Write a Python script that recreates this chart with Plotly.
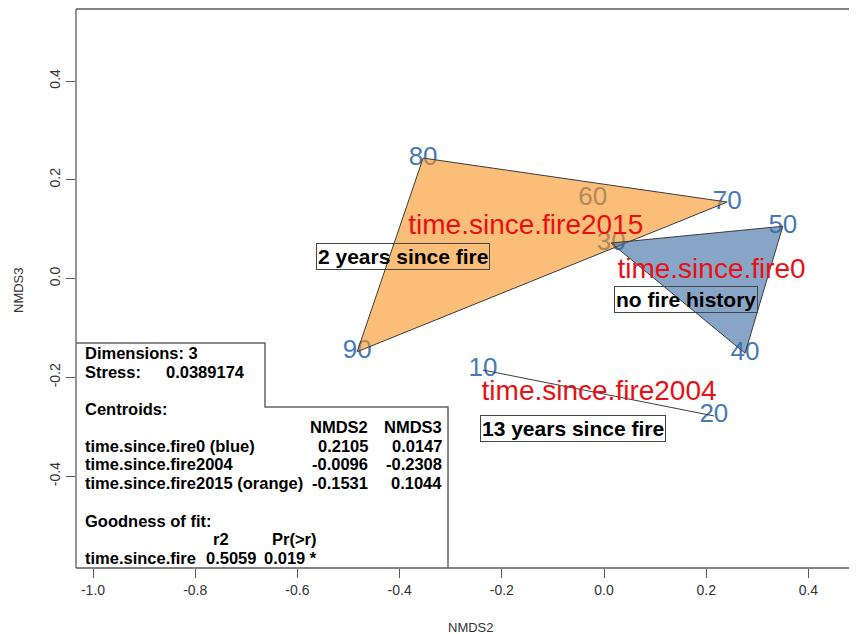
import plotly.graph_objects as go

# ---------------- data ----------------
site_labels = ["10", "20", "30", "40", "50", "60", "70", "80", "90"]
site_nmds2 = [-0.237, 0.215, 0.014, 0.276, 0.350, -0.022, 0.241, -0.354, -0.483]
site_nmds3 = [-0.185, -0.278, 0.072, -0.151, 0.106, 0.163, 0.155, 0.244, -0.148]

hull_fire0 = ["30", "50", "40"]
hull_fire2015 = ["80", "70", "90"]
hull_fire2004 = ["10", "20"]

centroid_names = ["time.since.fire0", "time.since.fire2004", "time.since.fire2015"]
centroid_nmds2 = [0.2105, -0.0096, -0.1531]
centroid_nmds3 = [0.0147, -0.2308, 0.1044]

box_labels = ["no fire history", "13 years since fire", "2 years since fire"]
box_nmds2 = [0.1595, -0.0607, -0.394]
box_nmds3 = [-0.0423, -0.3034, 0.0457]

x_tickvals = [-1.0, -0.8, -0.6, -0.4, -0.2, 0.0, 0.2, 0.4]
x_ticktext = ["-1.0", "-0.8", "-0.6", "-0.4", "-0.2", "0.0", "0.2", "0.4"]
y_tickvals = [-0.4, -0.2, 0.0, 0.2, 0.4]
y_ticktext = ["-0.4", "-0.2", "0.0", "0.2", "0.4"]

stress_value = "0.0389174"
dimensions = 3
centroid_table_names = ["time.since.fire0 (blue)", "time.since.fire2004", "time.since.fire2015 (orange)"]
fit_r2 = "0.5059"
fit_p = "0.019 *"

# ---------------- styling ----------------
FONT = "Liberation Sans, Arial, Helvetica, sans-serif"
OFF = 8                      # default page body margin
SCREEN_W, SCREEN_H = 857, 634
W, H = SCREEN_W - OFF, SCREEN_H - OFF
# plot area in screen pixels
P_LEFT, P_TOP, P_BOTTOM = 76, 9, 568
L, R, T, B = P_LEFT - OFF, 0, P_TOP - OFF, SCREEN_H - P_BOTTOM
X0, SX = 604.0, 511.0   # screen pixel of x=0, pixels per unit
Y0, SY = 278.6, 494.0


def px2x(px):
    return (px - X0) / SX


def px2y(py):
    return (Y0 - py) / SY


x_range = [px2x(P_LEFT), px2x(SCREEN_W)]
y_range = [px2y(P_BOTTOM), px2y(P_TOP)]

pos = {lab: (x, y) for lab, x, y in zip(site_labels, site_nmds2, site_nmds3)}

fig = go.Figure()

# site labels (drawn beneath the hulls)
fig.add_trace(go.Scatter(
    x=site_nmds2, y=site_nmds3, text=site_labels, mode="text",
    textposition="middle center",
    textfont=dict(family=FONT, size=26, color="rgb(70,122,182)"),
    hoverinfo="skip", showlegend=False))


def hull_trace(labels, fill):
    xs = [pos[l][0] for l in labels]
    ys = [pos[l][1] for l in labels]
    if fill is not None:
        xs.append(xs[0]); ys.append(ys[0])
        return go.Scatter(x=xs, y=ys, mode="lines", fill="toself", fillcolor=fill,
                          line=dict(color="rgb(60,60,60)", width=1),
                          hoverinfo="skip", showlegend=False)
    return go.Scatter(x=xs, y=ys, mode="lines",
                      line=dict(color="rgb(60,60,60)", width=1),
                      hoverinfo="skip", showlegend=False)


fig.add_trace(hull_trace(hull_fire2015, "rgba(247,147,30,0.6)"))
fig.add_trace(hull_trace(hull_fire0, "rgba(55,105,160,0.6)"))
fig.add_trace(hull_trace(hull_fire2004, None))

# centroid labels
fig.add_trace(go.Scatter(
    x=centroid_nmds2, y=centroid_nmds3, text=centroid_names, mode="text",
    textposition="middle center",
    textfont=dict(family=FONT, size=28, color="rgb(232,16,20)"),
    hoverinfo="skip", showlegend=False))

annotations = []
for t, x, y in zip(box_labels, box_nmds2, box_nmds3):
    annotations.append(dict(
        x=x, y=y, xref="x", yref="y", text=t, showarrow=False,
        xanchor="center", yanchor="middle",
        font=dict(family=FONT, size=21, color="black", weight="bold"),
        bordercolor="rgb(70,70,70)", borderwidth=1, borderpad=1,
        bgcolor="rgba(0,0,0,0)"))


def leg_text(text, px, py, anchor="left"):
    annotations.append(dict(
        x=px2x(px), y=px2y(py), xref="x", yref="y", text=text, showarrow=False,
        xanchor=anchor, yanchor="middle",
        font=dict(family=FONT, size=16.5, color="black", weight="bold")))


rows_y = [446, 464.3, 483.3]
leg_text(f"Dimensions: {dimensions}", 83, 352.7)
leg_text("Stress:", 83, 371.7)
leg_text(stress_value, 164, 371.7)
leg_text("Centroids:", 83, 409.3)
leg_text("NMDS2", 370, 427.3, "right")
leg_text("NMDS3", 444, 427.3, "right")
for name, c2, c3, ry in zip(centroid_table_names, centroid_nmds2, centroid_nmds3, rows_y):
    leg_text(name, 83, ry)
    leg_text(f"{c2:.4f}", 370, ry, "right")
    leg_text(f"{c3:.4f}", 444, ry, "right")
leg_text("Goodness of fit:", 83, 521)
leg_text("r2", 231, 539.3, "right")
leg_text("Pr(>r)", 318, 539.3, "right")
leg_text("time.since.fire", 83, 557.7)
leg_text(fit_r2, 258, 557.7, "right")
leg_text(fit_p, 319, 557.7, "right")

# axis titles
annotations.append(dict(x=px2x(471), y=0, xref="x", yref="paper", yshift=-59,
                        text="NMDS2", showarrow=False, xanchor="center", yanchor="middle",
                        font=dict(family=FONT, size=13, color="#333")))
annotations.append(dict(x=0, y=px2y(290), xref="paper", yref="y", xshift=-58,
                        text="NMDS3", showarrow=False, textangle=-90,
                        xanchor="center", yanchor="middle",
                        font=dict(family=FONT, size=13, color="#333")))

shapes = [
    # plot frame (top, left, bottom)
    dict(type="line", xref="paper", yref="paper", x0=0, x1=1, y0=1, y1=1,
         line=dict(color="rgb(90,90,90)", width=1.3)),
    dict(type="line", xref="paper", yref="paper", x0=0, x1=0, y0=0, y1=1,
         line=dict(color="rgb(90,90,90)", width=1.3)),
    dict(type="line", xref="paper", yref="paper", x0=0, x1=1, y0=0, y1=0,
         line=dict(color="rgb(90,90,90)", width=1.3)),
    # stepped legend frame
    dict(type="path", xref="x", yref="y",
         path=(f"M {px2x(P_LEFT)},{px2y(343)} L {px2x(265)},{px2y(343)} "
               f"L {px2x(265)},{px2y(407)} L {px2x(448)},{px2y(407)} "
               f"L {px2x(448)},{px2y(P_BOTTOM)}"),
         line=dict(color="rgb(100,100,100)", width=1.5)),
]

fig.update_layout(
    width=W, height=H, autosize=False,
    margin=dict(l=L, r=R, t=T, b=B, pad=0, autoexpand=False),
    paper_bgcolor="white", plot_bgcolor="white",
    showlegend=False,
    annotations=annotations, shapes=shapes,
    xaxis=dict(range=x_range, showgrid=False, zeroline=False, showline=False,
               automargin=False,
               tickmode="array", tickvals=x_tickvals, ticktext=x_ticktext,
               ticks="outside", ticklen=9, tickwidth=1, tickcolor="rgb(90,90,90)",
               tickfont=dict(family=FONT, size=14, color="#333")),
    yaxis=dict(range=y_range, showgrid=False, zeroline=False, showline=False,
               automargin=False,
               tickmode="array", tickvals=y_tickvals, ticktext=y_ticktext,
               ticks="outside", ticklen=9, tickwidth=1, tickcolor="rgb(90,90,90)",
               tickangle=-90,
               tickfont=dict(family=FONT, size=14, color="#333")),
)

fig.write_html("out.html")
